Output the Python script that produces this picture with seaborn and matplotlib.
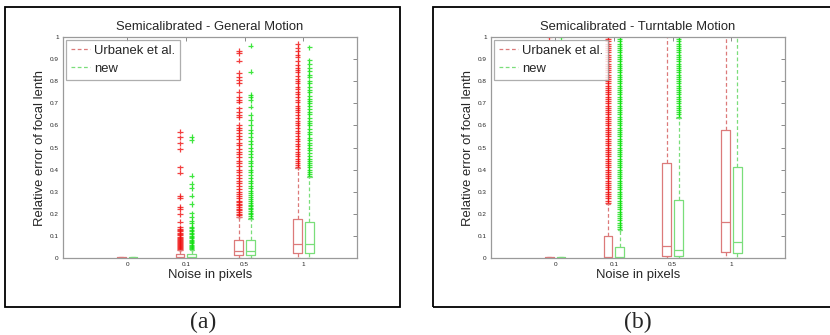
import numpy as np
import pandas as pd
import matplotlib
matplotlib.use('Agg')
import matplotlib.pyplot as plt
import seaborn as sns
from matplotlib.lines import Line2D
from matplotlib.patches import Rectangle

sns.set_style('white')
plt.rcParams['font.family'] = ['Liberation Sans', 'DejaVu Sans']

# categories
noise_labels = ['0', '0.1', '0.5', '1']
series = ['Urbanek et al.', 'new']

# ---- (a) Semicalibrated - General Motion: box statistics per noise level
a_red_q1 = [0.0, 0.001, 0.012, 0.021]
a_red_med = [0.001, 0.005, 0.032, 0.065]
a_red_q3 = [0.003, 0.016, 0.081, 0.176]
a_red_lo = [0.0, 0.0, 0.0, 0.0]
a_red_hi = [0.005, 0.036, 0.185, 0.405]
a_green_q1 = [0.0, 0.001, 0.012, 0.021]
a_green_med = [0.001, 0.005, 0.030, 0.065]
a_green_q3 = [0.003, 0.017, 0.081, 0.161]
a_green_lo = [0.0, 0.0, 0.0, 0.0]
a_green_hi = [0.005, 0.037, 0.178, 0.368]

# outliers (a)
a_red_out_0 = []
a_red_out_01 = [0.571, 0.546, 0.519, 0.492, 0.410, 0.386, 0.282, 0.273, 0.232, 0.222,
                0.198, 0.164, 0.139, 0.132, 0.126, 0.12, 0.113, 0.108, 0.102, 0.097,
                0.092, 0.088, 0.083, 0.078, 0.074, 0.069, 0.064, 0.059, 0.055, 0.05,
                0.046, 0.042, 0.038]
a_red_out_05 = [0.938, 0.926, 0.893, 0.839, 0.821, 0.805, 0.79, 0.753, 0.73, 0.715,
                0.707, 0.677, 0.662, 0.647, 0.637, 0.602, 0.587, 0.579, 0.565, 0.55,
                0.538, 0.52, 0.51, 0.495, 0.48, 0.47, 0.455, 0.44, 0.43, 0.415, 0.4,
                0.39, 0.375, 0.362, 0.35, 0.338, 0.325, 0.31, 0.3, 0.29, 0.28, 0.27,
                0.26, 0.252, 0.245, 0.238, 0.23, 0.222, 0.215, 0.208, 0.2, 0.193, 0.187]
a_red_out_1 = [0.968, 0.95, 0.935, 0.92, 0.91, 0.89, 0.875, 0.86, 0.85, 0.84, 0.825,
               0.81, 0.8, 0.79, 0.775, 0.765, 0.75, 0.74, 0.73, 0.715, 0.705, 0.69,
               0.68, 0.67, 0.66, 0.645, 0.635, 0.62, 0.61, 0.6, 0.59, 0.575, 0.565,
               0.55, 0.54, 0.53, 0.515, 0.505, 0.495, 0.48, 0.47, 0.46, 0.45, 0.44,
               0.43, 0.42, 0.41]
a_green_out_0 = []
a_green_out_01 = [0.549, 0.534, 0.372, 0.335, 0.315, 0.282, 0.244, 0.202, 0.184, 0.169,
                  0.157, 0.141, 0.135, 0.128, 0.121, 0.114, 0.108, 0.1, 0.095, 0.089,
                  0.082, 0.077, 0.071, 0.066, 0.06, 0.055, 0.049, 0.044, 0.039]
a_green_out_05 = [0.961, 0.843, 0.738, 0.73, 0.715, 0.685, 0.647, 0.624, 0.602, 0.58,
                  0.565, 0.548, 0.53, 0.515, 0.5, 0.485, 0.47, 0.455, 0.44, 0.428,
                  0.415, 0.4, 0.39, 0.375, 0.36, 0.35, 0.338, 0.325, 0.315, 0.305,
                  0.295, 0.285, 0.275, 0.265, 0.257, 0.25, 0.242, 0.235, 0.228, 0.22,
                  0.212, 0.205, 0.198, 0.19, 0.183]
a_green_out_1 = [0.953, 0.895, 0.88, 0.86, 0.845, 0.83, 0.82, 0.8, 0.79, 0.775, 0.76,
                 0.75, 0.735, 0.72, 0.71, 0.7, 0.69, 0.675, 0.66, 0.65, 0.635, 0.62,
                 0.61, 0.6, 0.585, 0.57, 0.56, 0.545, 0.535, 0.52, 0.51, 0.5, 0.49,
                 0.475, 0.46, 0.45, 0.44, 0.43, 0.42, 0.41, 0.4, 0.39, 0.38, 0.372]

# ---- (b) Semicalibrated - Turntable Motion
b_red_q1 = [0.0, 0.002, 0.011, 0.026]
b_red_med = [0.001, 0.006, 0.056, 0.164]
b_red_q3 = [0.003, 0.101, 0.431, 0.579]
b_red_lo = [0.0, 0.0, 0.0, 0.0]
b_red_hi = [0.005, 0.245, 1.05, 1.05]
b_green_q1 = [0.0, 0.002, 0.011, 0.021]
b_green_med = [0.001, 0.005, 0.037, 0.074]
b_green_q3 = [0.003, 0.051, 0.262, 0.413]
b_green_lo = [0.0, 0.0, 0.0, 0.0]
b_green_hi = [0.005, 0.125, 0.635, 1.05]

b_red_out_0 = [1.0]
b_red_out_01 = [0.25, 0.26, 0.27, 0.28, 0.29, 0.30, 0.31, 0.32, 0.33, 0.34, 0.35, 0.36,
                0.37, 0.38, 0.39, 0.40, 0.41, 0.42, 0.43, 0.44, 0.45, 0.46, 0.47, 0.48,
                0.49, 0.50, 0.51, 0.52, 0.53, 0.54, 0.55, 0.56, 0.57, 0.58, 0.59, 0.60,
                0.61, 0.62, 0.63, 0.64, 0.65, 0.66, 0.67, 0.68, 0.69, 0.70, 0.71, 0.72,
                0.73, 0.74, 0.75, 0.76, 0.77, 0.78, 0.79, 0.80, 0.81, 0.82, 0.83, 0.84,
                0.85, 0.86, 0.87, 0.88, 0.89, 0.90, 0.91, 0.92, 0.93, 0.94, 0.95, 0.96,
                0.97, 0.98, 0.99, 1.0]
b_red_out_05 = []
b_red_out_1 = []
b_green_out_0 = [1.0]
b_green_out_01 = [0.13, 0.14, 0.15, 0.16, 0.17, 0.18, 0.19, 0.20, 0.21, 0.22, 0.23, 0.24,
                  0.25, 0.26, 0.27, 0.28, 0.29, 0.30, 0.31, 0.32, 0.33, 0.34, 0.35, 0.36,
                  0.37, 0.38, 0.39, 0.40, 0.41, 0.42, 0.43, 0.44, 0.45, 0.46, 0.47, 0.48,
                  0.49, 0.50, 0.51, 0.52, 0.53, 0.54, 0.55, 0.56, 0.57, 0.58, 0.59, 0.60,
                  0.61, 0.62, 0.63, 0.64, 0.65, 0.66, 0.67, 0.68, 0.69, 0.70, 0.71, 0.72,
                  0.73, 0.74, 0.75, 0.76, 0.77, 0.78, 0.79, 0.80, 0.81, 0.82, 0.83, 0.84,
                  0.85, 0.86, 0.87, 0.88, 0.89, 0.90, 0.91, 0.92, 0.93, 0.94, 0.95, 0.96,
                  0.97, 0.98, 0.99, 1.0]
b_green_out_05 = [0.64, 0.65, 0.66, 0.67, 0.68, 0.69, 0.70, 0.71, 0.72, 0.73, 0.74, 0.75,
                  0.76, 0.77, 0.78, 0.79, 0.80, 0.81, 0.82, 0.83, 0.84, 0.85, 0.86, 0.87,
                  0.88, 0.89, 0.90, 0.91, 0.92, 0.93, 0.94, 0.95, 0.96, 0.97, 0.98, 0.99,
                  1.0]
b_green_out_1 = []

RED_BOX = '#dc7a7a'
GREEN_BOX = '#7ade7a'
RED_PT = '#f01010'
GREEN_PT = '#10e010'
GRID_GRAY = '#9a9a9a'


def make_stats(q1, med, q3, lo, hi):
    return [dict(q1=a, med=m, q3=b, whislo=l, whishi=h, fliers=[])
            for a, m, b, l, h in zip(q1, med, q3, lo, hi)]


def draw_panel(ax, title, red, green, red_out, green_out):
    pos = np.arange(1, len(noise_labels) + 1)
    for stats, off, col in [(red, -0.1, RED_BOX), (green, 0.1, GREEN_BOX)]:
        ax.bxp(stats, positions=pos + off, widths=0.15, showfliers=False,
               boxprops=dict(color=col, lw=0.9),
               medianprops=dict(color=col, lw=0.9),
               whiskerprops=dict(color=col, lw=0.9, ls=(0, (3, 2))),
               capprops=dict(color=col, lw=0.9), manage_ticks=False)

    rows = []
    for i, vals in enumerate(red_out):
        rows += [(pos[i] - 0.1, v, series[0]) for v in vals]
    for i, vals in enumerate(green_out):
        rows += [(pos[i] + 0.1, v, series[1]) for v in vals]
    df = pd.DataFrame(rows, columns=['x', 'y', 'method'])
    sns.scatterplot(data=df, x='x', y='y', hue='method', hue_order=series,
                    palette=[RED_PT, GREEN_PT], marker='+', s=15, linewidth=0.9,
                    alpha=0.8, legend=False, ax=ax)

    ax.set_xlim(-0.09, 4.91)
    ax.set_ylim(0, 1)
    ax.set_xticks(pos)
    ax.set_xticklabels(noise_labels)
    ax.set_yticks(np.arange(0, 1.01, 0.1))
    ax.set_yticklabels(['0', '0.1', '0.2', '0.3', '0.4', '0.5', '0.6', '0.7', '0.8', '0.9', '1'])
    ax.tick_params(direction='in', length=3, width=0.6, color='#777777', labelsize=4.6,
                   top=True, right=True, pad=3)
    for sp in ax.spines.values():
        sp.set_color(GRID_GRAY)
        sp.set_linewidth(0.9)
    ax.set_title(title, fontsize=9.4, pad=5)
    ax.set_xlabel('Noise in pixels', fontsize=9.4, labelpad=1)
    ax.set_ylabel('Relative error of focal lenth', fontsize=9.4, labelpad=3)

    handles = [Line2D([], [], color=RED_BOX, lw=0.9, ls=(0, (3, 2))),
               Line2D([], [], color=GREEN_BOX, lw=0.9, ls=(0, (3, 2)))]
    leg = ax.legend(handles, series, loc='upper left', fontsize=9.4, frameon=True,
                    fancybox=False, edgecolor=GRID_GRAY, borderaxespad=0.25,
                    handlelength=1.5, handletextpad=0.3, borderpad=0.35,
                    labelspacing=0.45)
    leg.get_frame().set_linewidth(0.9)


fig = plt.figure(figsize=(8.3, 3.35), dpi=100)
W, H = 830.0, 335.0
ax1 = fig.add_axes([63 / W, 1 - 258 / H, 294 / W, 221 / H])
ax2 = fig.add_axes([491 / W, 1 - 258 / H, 294 / W, 221 / H])

draw_panel(ax1, 'Semicalibrated - General Motion',
           make_stats(a_red_q1, a_red_med, a_red_q3, a_red_lo, a_red_hi),
           make_stats(a_green_q1, a_green_med, a_green_q3, a_green_lo, a_green_hi),
           [a_red_out_0, a_red_out_01, a_red_out_05, a_red_out_1],
           [a_green_out_0, a_green_out_01, a_green_out_05, a_green_out_1])
draw_panel(ax2, 'Semicalibrated - Turntable Motion',
           make_stats(b_red_q1, b_red_med, b_red_q3, b_red_lo, b_red_hi),
           make_stats(b_green_q1, b_green_med, b_green_q3, b_green_lo, b_green_hi),
           [b_red_out_0, b_red_out_01, b_red_out_05, b_red_out_1],
           [b_green_out_0, b_green_out_01, b_green_out_05, b_green_out_1])

# black frames around each sub-figure
fig.patches.append(Rectangle((5 / W, 1 - 307 / H), 395 / W, 300 / H, transform=fig.transFigure,
                             fill=False, edgecolor='black', lw=1.3))
fig.patches.append(Rectangle((433 / W, 1 - 307 / H), 400 / W, 300 / H, transform=fig.transFigure,
                             fill=False, edgecolor='black', lw=1.3))

fig.text(203 / W, 1 - 322 / H, '(a)', ha='center', va='center', fontsize=17,
         family=['Liberation Serif', 'DejaVu Serif'])
fig.text(638 / W, 1 - 322 / H, '(b)', ha='center', va='center', fontsize=17,
         family=['Liberation Serif', 'DejaVu Serif'])

fig.savefig('out.png', dpi=100)
